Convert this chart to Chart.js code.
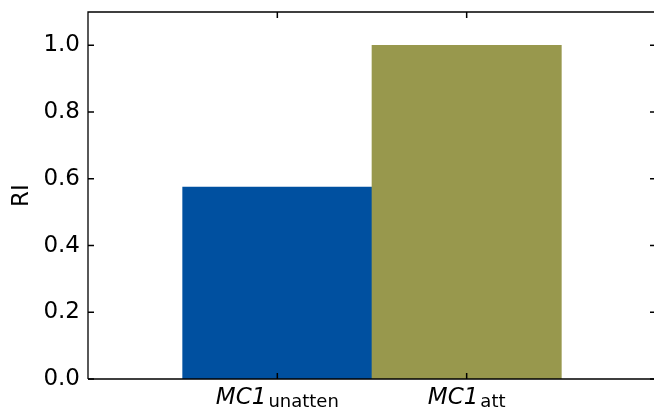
<!DOCTYPE html>
<html>
<head>
<meta charset="utf-8">
<script src="https://cdn.jsdelivr.net/npm/chart.js@4.4.0/dist/chart.umd.min.js"></script>
<style>
  html, body { margin: 0; padding: 0; background: #fff; overflow: hidden; }
  #wrap { width: 660px; height: 409px; position: relative; }
</style>
</head>
<body>
<div id="wrap"><canvas id="c"></canvas></div>
<script>
// ---- data ----
const categories = ['', 'MC1|unatten', 'MC1|att', ''];
const riValues = [null, 0.575, 1.0, null];
const barColors = ['#0050a0', '#0050a0', '#98984d', '#98984d'];
const yTicks = [0.0, 0.2, 0.4, 0.6, 0.8, 1.0];
const yMax = 1.1;

const FONT = "'DejaVu Sans', sans-serif";

const framePlugin = {
  id: 'frame',
  afterDraw(chart) {
    const ctx = chart.ctx;
    const a = chart.chartArea;
    const xs = chart.scales.x, ys = chart.scales.y;
    ctx.save();
    ctx.strokeStyle = '#000';
    ctx.lineWidth = 1.3;
    ctx.beginPath();
    ctx.moveTo(a.left, a.bottom); ctx.lineTo(a.left, a.top); ctx.lineTo(a.right, a.top);
    ctx.moveTo(a.left, a.bottom); ctx.lineTo(a.right, a.bottom);
    ctx.stroke();
    const tl = 6;
    ctx.lineWidth = 1.5;
    ctx.beginPath();
    yTicks.forEach(v => {
      const y = ys.getPixelForValue(v);
      ctx.moveTo(a.left, y); ctx.lineTo(a.left + tl, y);
      ctx.moveTo(a.right, y); ctx.lineTo(a.right - tl, y);
    });
    categories.forEach((c, i) => {
      if (!c) return;
      const x = xs.getPixelForValue(i);
      ctx.moveTo(x, a.bottom); ctx.lineTo(x, a.bottom - tl);
      ctx.moveTo(x, a.top); ctx.lineTo(x, a.top + tl);
    });
    ctx.stroke();
    ctx.fillStyle = '#000';
    ctx.textBaseline = 'alphabetic';
    ctx.textAlign = 'left';
    const mainFont = 'italic 23px ' + FONT;
    const subFont = '18px ' + FONT;
    const gap = 2;
    categories.forEach((c, i) => {
      if (!c) return;
      const [main, sub] = c.split('|');
      const x = xs.getPixelForValue(i);
      ctx.font = mainFont; const w1 = ctx.measureText(main).width;
      ctx.font = subFont; const w2 = ctx.measureText(sub).width;
      const start = x - (w1 + gap + w2) / 2;
      ctx.font = mainFont; ctx.fillText(main, start, 404);
      ctx.font = subFont; ctx.fillText(sub, start + w1 + gap, 407);
    });
    ctx.restore();
  }
};

new Chart(document.getElementById('c'), {
  type: 'bar',
  data: {
    labels: categories,
    datasets: [{
      data: riValues,
      backgroundColor: barColors,
      borderWidth: 0,
      barPercentage: 1.0,
      categoryPercentage: 1.0
    }]
  },
  options: {
    responsive: true,
    maintainAspectRatio: false,
    animation: false,
    devicePixelRatio: 1,
    layout: { padding: { top: 12, right: 4, left: 0, bottom: 0 } },
    plugins: { legend: { display: false }, tooltip: { enabled: false } },
    scales: {
      x: {
        type: 'category',
        offset: false,
        grid: { display: false, drawTicks: false },
        border: { display: false },
        ticks: { display: false },
        afterFit(s) { s.height = 30; s.paddingLeft = 0; s.paddingRight = 0; }
      },
      y: {
        min: 0, max: yMax,
        grid: { display: false, drawTicks: false },
        border: { display: false },
        afterBuildTicks(s) { s.ticks = yTicks.map(v => ({ value: v })); },
        ticks: {
          padding: 8,
          color: '#000',
          font: { family: FONT, size: 23 },
          callback: v => Number(v).toFixed(1)
        },
        title: {
          display: true, text: 'RI', color: '#000',
          font: { family: FONT, size: 23 },
          padding: { top: 8, bottom: 0 }
        },
        afterFit(s) { s.width = 88; s.paddingTop = 0; s.paddingBottom = 0; }
      }
    }
  },
  plugins: [framePlugin]
});
</script>
</body>
</html>
